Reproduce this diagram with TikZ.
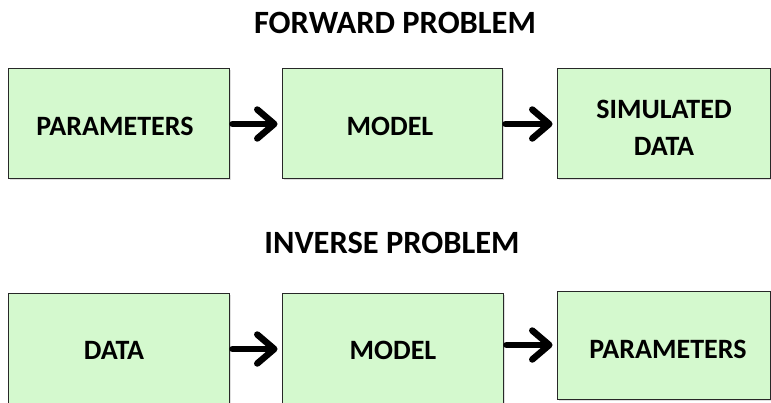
\documentclass[tikz,border=0pt]{standalone}
\usepackage{fontspec}
\setmainfont{Carlito}
\usetikzlibrary{arrows.meta,shadows}
\definecolor{boxgreen}{RGB}{212,249,206}
\definecolor{boxedge}{RGB}{40,40,40}
\tikzset{
  stepbox/.style={draw=boxedge, line width=1pt, fill=boxgreen, inner sep=0pt,
    drop shadow={opacity=0.25, shadow xshift=2pt, shadow yshift=-2pt}},
  lbl/.style={font=\fontsize{28}{37}\selectfont\bfseries, align=center, inner sep=0pt},
  ttl/.style={font=\fontsize{32.5}{38}\selectfont\bfseries, inner sep=0pt},
  conn/.style={line width=6.5pt, -{Straight Barb[length=17pt,width=29pt,line cap=round,round]}, line cap=round,
    shorten <=3pt, shorten >=4pt}
}
\begin{document}
\begin{tikzpicture}[x=1pt,y=-1pt]
\useasboundingbox (0,0) rectangle (771,402);
% titles
\node[ttl] (t1) at (395,23) {FORWARD PROBLEM};
\node[ttl] (t2) at (392,243) {INVERSE PROBLEM};
% top row boxes
\node[stepbox, minimum width=221pt, minimum height=110pt] (f1) at (118.5,123) {};
\node[stepbox, minimum width=220pt, minimum height=110pt] (f2) at (392,123) {};
\node[stepbox, minimum width=213pt, minimum height=110pt] (f3) at (663.5,123) {};
\node[lbl] (f1t) at (115,126) {PARAMETERS};
\node[lbl] (f2t) at (390,126) {MODEL};
\node[lbl] (f3t) at (664,128) {SIMULATED\\DATA};
% bottom row boxes
\node[stepbox, minimum width=221pt, minimum height=117pt] (i1) at (118.5,351.5) {};
\node[stepbox, minimum width=221pt, minimum height=117pt] (i2) at (392.5,351.5) {};
\node[stepbox, minimum width=213pt, minimum height=108pt] (i3) at (663.5,345) {};
\node[lbl] (i1t) at (114,350) {DATA};
\node[lbl] (i2t) at (393,350) {MODEL};
\node[lbl] (i3t) at (668,349) {PARAMETERS};
% connector anchors on box sides
\coordinate (i1e) at (i1.east |- 0,349);
\coordinate (i2w) at (i2.west |- 0,349);
\coordinate (i2e) at (i2.east |- 0,345);
\coordinate (i3w) at (i3.west |- 0,345);
% connectors
\draw[conn] (f1.east |- 0,124) -- (f2.west |- 0,124);
\draw[conn] (f2.east |- 0,124) -- (f3.west |- 0,124);
\draw[conn] (i1e) -- (i2w);
\draw[conn] (i2e) -- (i3w);
\end{tikzpicture}
\end{document}
